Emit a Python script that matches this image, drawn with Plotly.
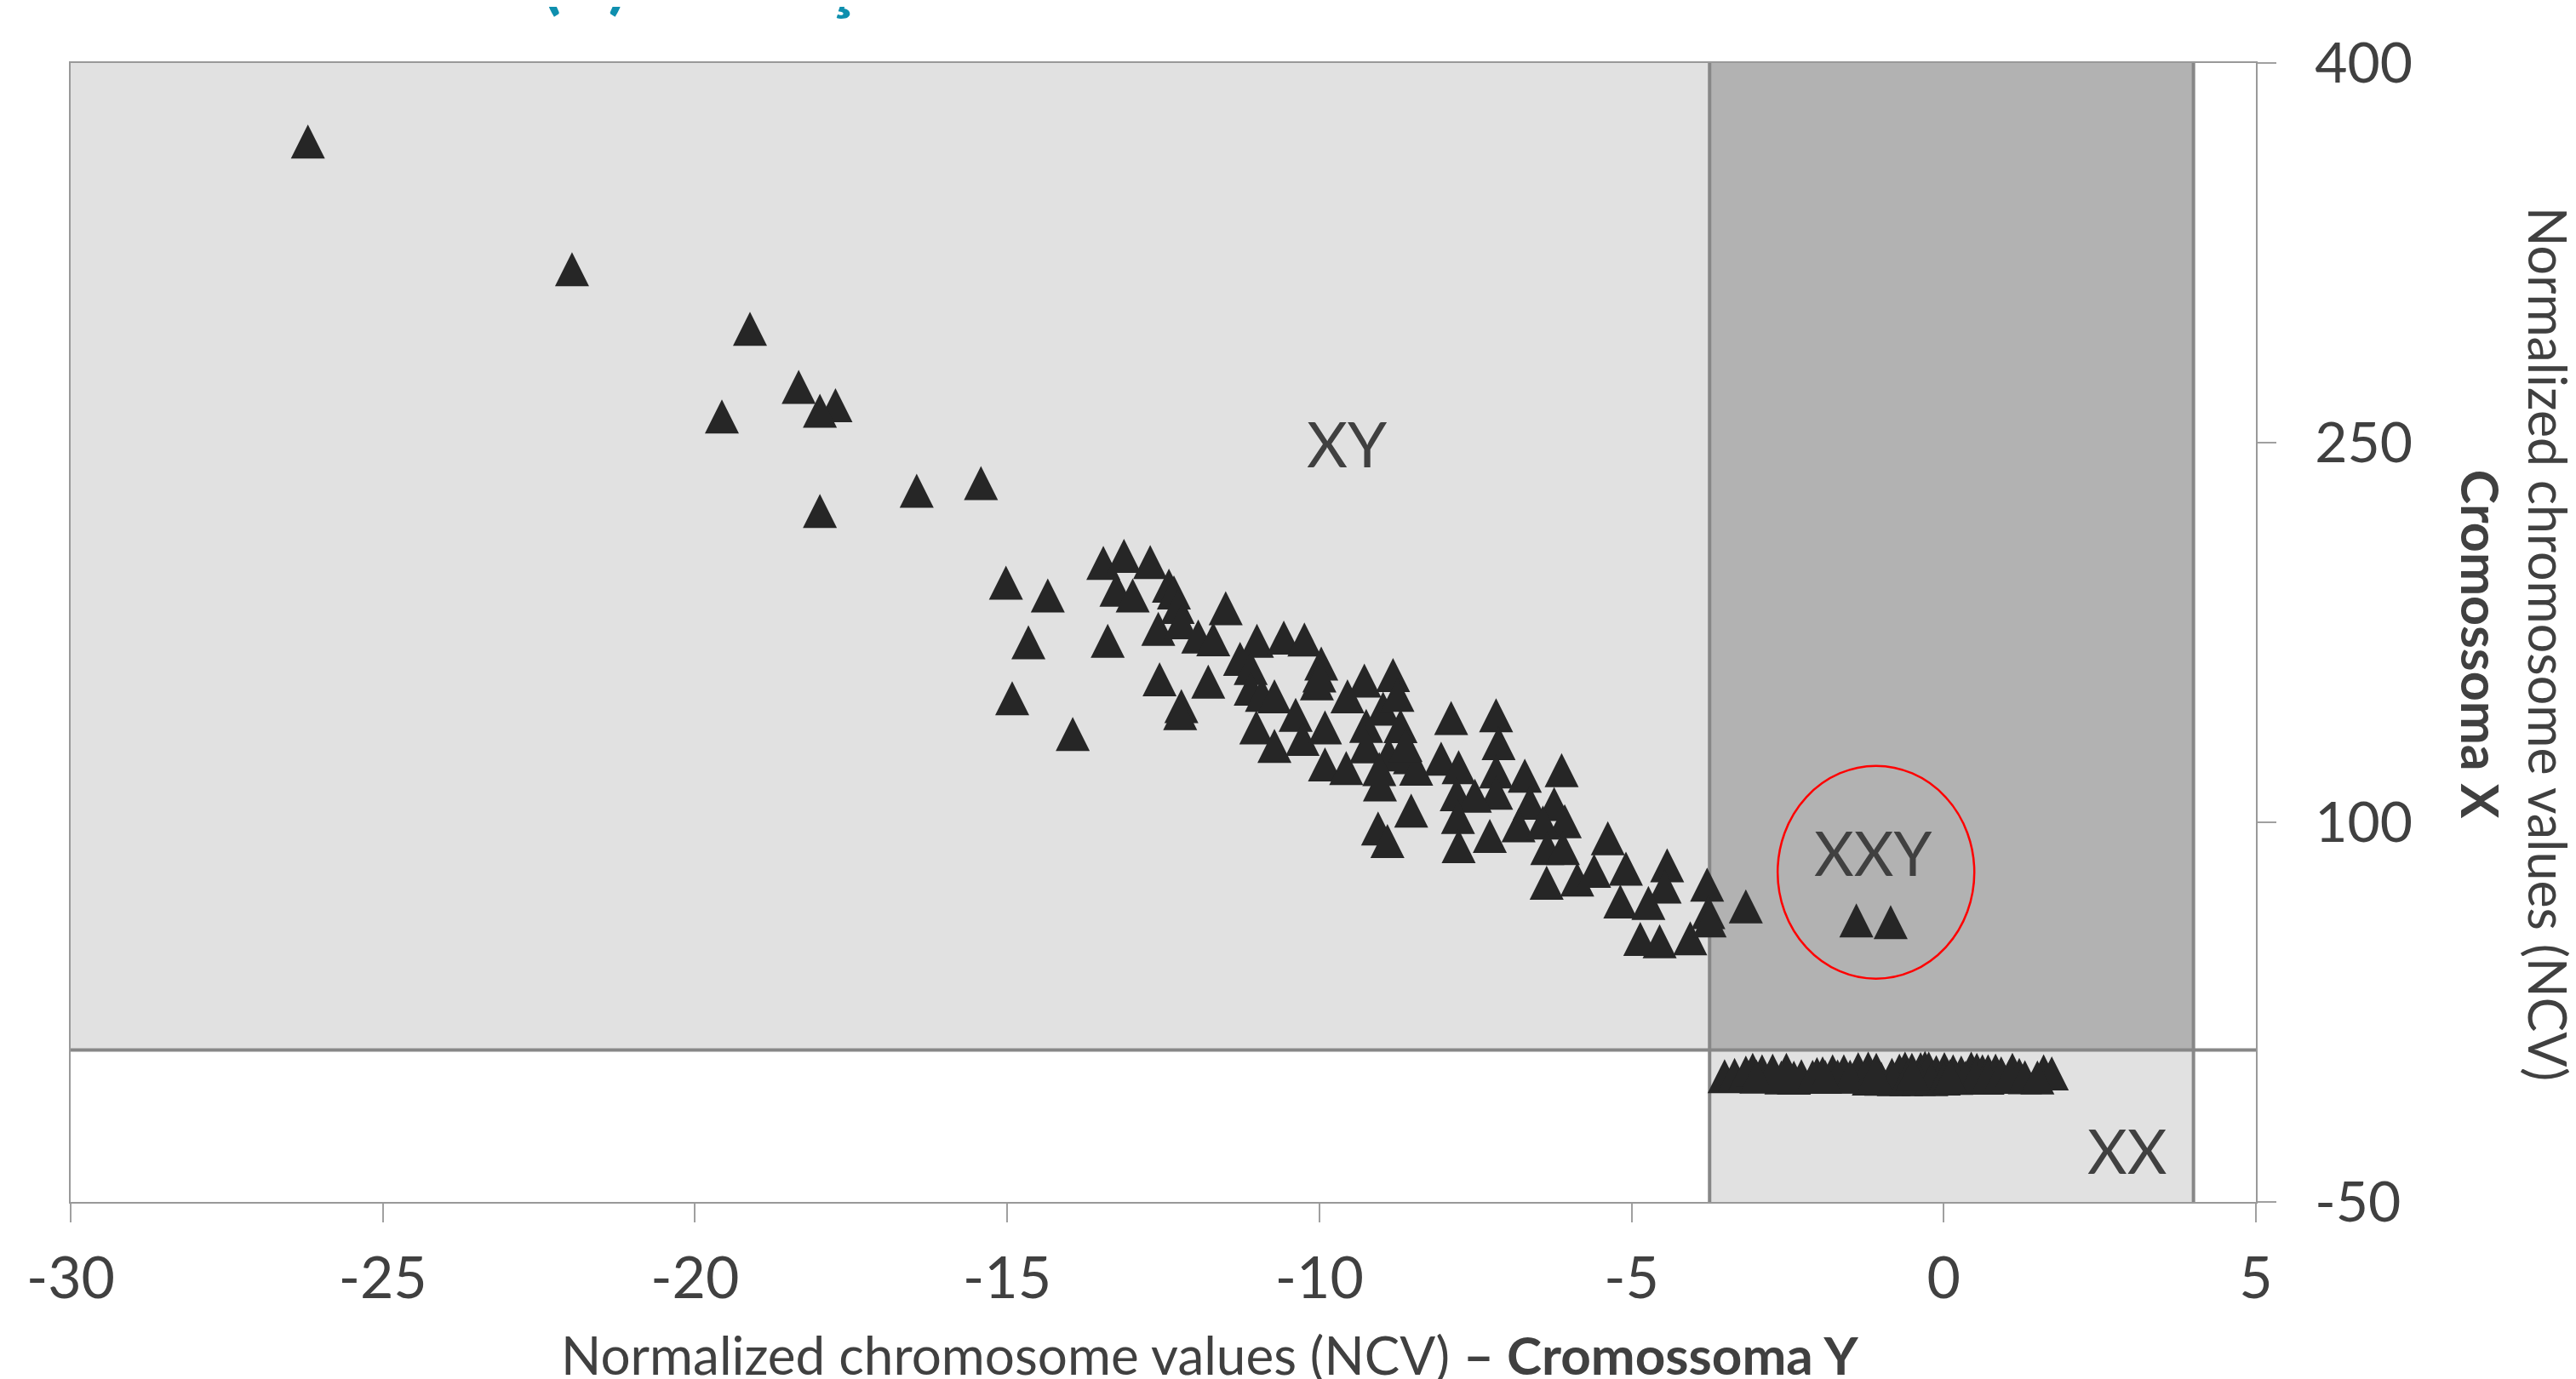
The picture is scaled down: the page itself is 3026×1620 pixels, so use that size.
import plotly.graph_objects as go

# ---------------- data ----------------
# XY group (NCV chromosome Y, NCV chromosome X)
xy_ncv_y = [-26.2, -21.97, -19.12, -18.34, -17.75, -18.0, -19.57, -18.0, -16.45, -15.42,
            -15.02, -14.35, -14.66, -14.92, -13.95, -13.39, -13.46, -13.13, -12.71, -13.25,
            -12.99, -12.41, -12.33, -12.27, -12.58, -12.22, -11.94, -11.70, -11.50, -12.56,
            -11.78, -12.21, -12.23, -11.00, -11.27, -11.10, -10.57, -10.24, -9.97, -10.00,
            -10.04, -11.10, -10.92, -10.72, -10.38, -11.01, -10.72, -10.27, -9.91, -9.55,
            -9.28, -8.82, -9.91, -9.57, -9.03, -9.06, -8.91,
            -9.25, -8.98, -8.75, -8.89, -8.70, -9.25, -8.55, -8.45, -8.62, -9.04,
            -7.89, -7.17, -7.13, -8.05, -7.77, -7.17, -7.17, -7.80, -7.51, -7.78,
            -8.53, -7.77, -7.27, -6.71, -6.12, -6.63, -6.24, -6.07, -6.81, -6.42,
            -6.35, -6.10, -6.36, -5.87, -5.38, -5.60, -5.09, -4.43, -4.47, -5.18,
            -4.73, -4.86, -4.55, -4.06, -3.79, -3.77, -3.75, -3.17]
xy_ncv_x = [369.0, 318.5, 295.0, 272.0, 264.8, 262.6, 260.3, 223.0, 231.0, 234.0,
            194.7, 189.6, 171.1, 149.0, 134.9, 171.7, 202.5, 205.3, 202.8, 191.9,
            189.6, 193.5, 190.8, 185.1, 176.4, 179.0, 173.4, 172.3, 184.6, 156.5,
            155.6, 145.9, 143.1, 171.7, 164.6, 161.0, 173.0, 172.2, 162.7, 158.0,
            154.9, 152.8, 150.4, 149.8, 142.5, 137.5, 130.2, 133.0, 137.5, 149.8,
            156.0, 158.2, 122.9, 121.4, 115.0, 97.6, 92.6,
            138.1, 144.9, 150.4, 126.8, 138.0, 130.0, 125.7, 121.2, 130.5, 121.0,
            141.2, 142.3, 131.3, 125.1, 121.8, 120.1, 111.7, 111.1, 110.5, 102.1,
            104.6, 90.6, 94.6, 118.4, 120.6, 107.7, 107.2, 100.4, 98.8, 99.9,
            89.8, 89.8, 76.1, 77.4, 93.7, 80.8, 81.7, 83.0, 74.6, 68.7,
            68.1, 53.9, 53.0, 54.2, 75.4, 64.5, 61.2, 66.8]

# XXY group
xxy_ncv_y = [-1.40, -0.85]
xxy_ncv_x = [61.2, 60.6]

# XX group
xx_ncv_y = [-3.51, -3.35, -3.17, -3.06, -2.91, -2.74, -2.52, -2.28, -2.03, -1.94,
            -1.78, -1.60, -1.37, -1.21, -1.08, -0.83, -0.71, -0.62, -0.51, -0.37,
            -0.30, -0.24, -0.12, 0.01, 0.15, 0.28, 0.44, 0.53, 0.62, 0.71,
            0.83, 0.92, 1.10, 1.21, 1.60, 1.73,
            -3.0, -2.6, -2.4, -2.1, -1.7, -1.5, -1.2, -1.0, -0.8, -0.6,
            -0.4, -0.2, 0.0, 0.2, 0.35, 0.5, 0.7, 0.9, 1.05, 1.3,
            1.5, -1.9, 0.1, -0.5, -1.1]
xx_ncv_x = [-0.3, 0.2, 1.1, 2.2, 1.6, 1.9, 2.2, -0.3, 0.5, 0.8,
            1.6, 1.6, 2.5, 2.7, 2.2, 0.2, 1.9, 2.7, 2.2, 2.5,
            3.0, 2.7, 1.3, 2.5, 1.6, 1.1, 2.7, 2.2, 1.6, 1.6,
            1.9, 0.8, 2.2, 0.2, 1.6, 0.8,
            -0.5, -0.8, -0.9, -0.6, -0.4, -0.5, -1.2, -1.3, -1.5, -1.5,
            -1.4, -1.5, -1.2, -1.0, -0.9, -0.8, -0.9, -0.6, -0.4, -0.7,
            -0.8, -0.6, -0.3, 0.5, 0.8]

# region thresholds
y_cut_left = -3.75
y_cut_right = 4.0
x_cut = 10.0

x_ticks = [-30, -25, -20, -15, -10, -5, 0, 5]
x_ticktext = ["-30", "-25", "-20", "-15", "-10", "-5", "0", "5"]
y_ticks = [-50, 100, 250, 400]
y_ticktext = ["-50", "100", "250", "400"]
x_range = [-30, 5]
y_range = [-50, 400]

FONT = "Lato, 'Open Sans', sans-serif"
TXT = "#404040"
MARK = "#262626"
LIGHT = "#E1E1E1"
DARK = "#B2B2B2"
EDGE = "#878787"

MSIZE = 40
fig = go.Figure()
# upward triangle of equal width and height, centred on the point
marker = dict(symbol="arrow-down", angle=180, standoff=MSIZE / 2, size=MSIZE,
              color=MARK, line=dict(width=0))
for xs, ys in [(xy_ncv_y, xy_ncv_x), (xxy_ncv_y, xxy_ncv_x), (xx_ncv_y, xx_ncv_x)]:
    fig.add_trace(go.Scatter(x=xs, y=ys, mode="markers", marker=marker,
                             showlegend=False, hoverinfo="skip"))

shapes = [
    dict(type="rect", xref="x", yref="y", x0=x_range[0], x1=y_cut_left, y0=x_cut, y1=y_range[1],
         fillcolor=LIGHT, line=dict(width=0), layer="below"),
    dict(type="rect", xref="x", yref="y", x0=y_cut_left, x1=y_cut_right, y0=x_cut, y1=y_range[1],
         fillcolor=DARK, line=dict(width=0), layer="below"),
    dict(type="rect", xref="x", yref="y", x0=y_cut_left, x1=y_cut_right, y0=y_range[0], y1=x_cut,
         fillcolor=LIGHT, line=dict(width=0), layer="below"),
    dict(type="line", xref="x", yref="y", x0=x_range[0], x1=x_range[1], y0=x_cut, y1=x_cut,
         line=dict(color=EDGE, width=4), layer="below"),
    dict(type="line", xref="x", yref="y", x0=y_cut_left, x1=y_cut_left, y0=y_range[0], y1=y_range[1],
         line=dict(color=EDGE, width=4), layer="below"),
    dict(type="line", xref="x", yref="y", x0=y_cut_right, x1=y_cut_right, y0=y_range[0], y1=y_range[1],
         line=dict(color=EDGE, width=4), layer="below"),
    dict(type="circle", xref="x", yref="y", x0=-2.66, x1=0.49, y0=38.2, y1=122.3,
         line=dict(color="#FF0000", width=2.5), fillcolor="rgba(0,0,0,0)", layer="above"),
]

annotations = [
    dict(x=-9.56, y=250, xref="x", yref="y", text="XY", showarrow=False,
         font=dict(family=FONT, size=74, color=TXT)),
    dict(x=-1.13, y=88.3, xref="x", yref="y", text="XXY", showarrow=False,
         font=dict(family=FONT, size=72, color=TXT)),
    dict(x=2.94, y=-29.5, xref="x", yref="y", text="XX", showarrow=False,
         font=dict(family=FONT, size=72, color=TXT)),
    dict(x=0.5212, y=-0.134, xref="paper", yref="paper", xanchor="center", yanchor="middle",
         text="Normalized chromosome values (NCV) <b>– Cromossoma Y</b>", showarrow=False,
         font=dict(family=FONT, size=62, color=TXT)),
    dict(x=1.1182, y=0.490, xref="paper", yref="paper", xanchor="center", yanchor="middle",
         text="Normalized chromosome values (NCV)<br><b>Cromossoma X</b>", textangle=90,
         showarrow=False, font=dict(family=FONT, size=61, color=TXT)),
    dict(x=0.215, y=1.0359, xref="paper", yref="paper", xanchor="left", yanchor="bottom",
         text="<b>(A) Avaliação dos cromossomas sexuais</b>", showarrow=False,
         font=dict(family=FONT, size=80, color="#0E8FAE")),
]

fig.update_layout(
    width=3026, height=1620,
    margin=dict(l=75, r=384, t=66, b=216),
    paper_bgcolor="white", plot_bgcolor="white",
    shapes=shapes, annotations=annotations,
    font=dict(family=FONT, color=TXT),
)
fig.update_xaxes(range=x_range, tickvals=x_ticks, ticktext=x_ticktext, ticks="outside",
                 ticklen=22, tickwidth=2, tickcolor="#A0A0A0", showgrid=False, zeroline=False,
                 showline=True, linecolor="#999999", linewidth=2, mirror=True,
                 tickfont=dict(family=FONT, size=68, color=TXT), ticklabelstandoff=7)
fig.update_yaxes(range=y_range, tickvals=y_ticks, ticktext=y_ticktext, side="right",
                 ticks="outside", ticklen=22, tickwidth=2, tickcolor="#A0A0A0", showgrid=False,
                 zeroline=False, showline=True, linecolor="#999999", linewidth=2, mirror=True,
                 tickfont=dict(family=FONT, size=66, color=TXT), ticklabelstandoff=32)

fig.write_html("out.html")
